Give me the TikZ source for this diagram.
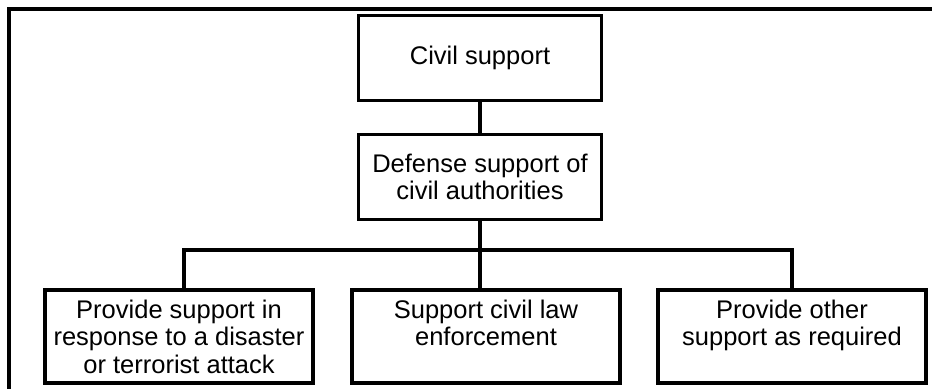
\documentclass[tikz,border=0pt]{standalone}
\usepackage{fontspec}
\setmainfont{Liberation Sans}
\usepackage{tikz}

\tikzset{
  orgbox/.style={draw, line width=3.5pt, align=center, inner sep=0pt,
    font=\fontsize{25.5}{27.5}\selectfont},
  topbox/.style={orgbox, minimum width=243pt, minimum height=85pt},
  lowbox/.style={orgbox, minimum width=268pt, minimum height=93pt},
  link/.style={line width=3.2pt}
}

\begin{document}
\begin{tikzpicture}[x=1pt, y=-1pt]
            \useasboundingbox (0,0) rectangle (932,389);
            % frame
            \draw [line width=3.5pt] (932,9) -- (9,9) -- (9,389);

            \node [topbox] (civ) at (480,58) {Civil support};
            \node [topbox] (dsca) at (480,177) {Defense support of\\civil authorities};

            \node [lowbox] (dis) at (179,336.5) {Provide support in\\response to a disaster\\or terrorist attack};
            \node [lowbox] (law) at (486,336.5) {Support civil law\\enforcement\\\mbox{}};
            \node [lowbox] (oth) at (792,336.5) {Provide other\\support as required\\\mbox{}};

            \coordinate (bus) at (480,250);

            \draw [link] (civ) -- (dsca);
            \draw [link] (dsca.south) -- (dsca.south |- law.north);
            \draw [link] (dis.north -| 184,0) |- (bus) -| (oth.north);
        \end{tikzpicture}
\end{document}
